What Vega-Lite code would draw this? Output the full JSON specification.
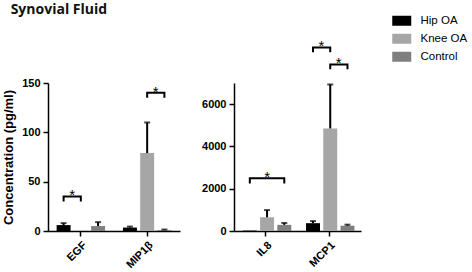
{
  "$schema": "https://vega.github.io/schema/vega-lite/v6.json",
  "padding": {"left": 2, "top": 3, "right": 2, "bottom": 2},
  "background": "white",
  "title": {"text": "Synovial Fluid", "anchor": "start", "font": "Open Sans", "fontSize": 14, "fontWeight": "bold", "color": "#111", "offset": -2, "dx": 8},
  "datasets": {
    "bars": [
      {"panel": "L", "cytokine": "EGF", "group": "Hip OA", "value": 6, "err": 8},
      {"panel": "L", "cytokine": "EGF", "group": "Knee OA", "value": 0, "err": null},
      {"panel": "L", "cytokine": "EGF", "group": "Control", "value": 5, "err": 9},
      {"panel": "L", "cytokine": "MIP1β", "group": "Hip OA", "value": 3.5, "err": 4.5},
      {"panel": "L", "cytokine": "MIP1β", "group": "Knee OA", "value": 79, "err": 110},
      {"panel": "L", "cytokine": "MIP1β", "group": "Control", "value": 1, "err": 1.5},
      {"panel": "R", "cytokine": "IL8", "group": "Hip OA", "value": 20, "err": null},
      {"panel": "R", "cytokine": "IL8", "group": "Knee OA", "value": 650, "err": 990},
      {"panel": "R", "cytokine": "IL8", "group": "Control", "value": 290, "err": 380},
      {"panel": "R", "cytokine": "MCP1", "group": "Hip OA", "value": 370, "err": 470},
      {"panel": "R", "cytokine": "MCP1", "group": "Knee OA", "value": 4850, "err": 6930},
      {"panel": "R", "cytokine": "MCP1", "group": "Control", "value": 250, "err": 300}
    ],
    "brackets": [
      {"panel": "L", "bid": "b1", "seq": 1, "cytokine": "EGF", "group": "Hip OA", "y": 30},
      {"panel": "L", "bid": "b1", "seq": 2, "cytokine": "EGF", "group": "Hip OA", "y": 35},
      {"panel": "L", "bid": "b1", "seq": 3, "cytokine": "EGF", "group": "Knee OA", "y": 35},
      {"panel": "L", "bid": "b1", "seq": 4, "cytokine": "EGF", "group": "Knee OA", "y": 30},
      {"panel": "L", "bid": "b2", "seq": 1, "cytokine": "MIP1β", "group": "Knee OA", "y": 135},
      {"panel": "L", "bid": "b2", "seq": 2, "cytokine": "MIP1β", "group": "Knee OA", "y": 140},
      {"panel": "L", "bid": "b2", "seq": 3, "cytokine": "MIP1β", "group": "Control", "y": 140},
      {"panel": "L", "bid": "b2", "seq": 4, "cytokine": "MIP1β", "group": "Control", "y": 135},
      {"panel": "R", "bid": "b3", "seq": 1, "cytokine": "IL8", "group": "Hip OA", "y": 2250},
      {"panel": "R", "bid": "b3", "seq": 2, "cytokine": "IL8", "group": "Hip OA", "y": 2490},
      {"panel": "R", "bid": "b3", "seq": 3, "cytokine": "IL8", "group": "Control", "y": 2490},
      {"panel": "R", "bid": "b3", "seq": 4, "cytokine": "IL8", "group": "Control", "y": 2250},
      {"panel": "R", "bid": "b4", "seq": 1, "cytokine": "MCP1", "group": "Hip OA", "y": 8450},
      {"panel": "R", "bid": "b4", "seq": 2, "cytokine": "MCP1", "group": "Hip OA", "y": 8680},
      {"panel": "R", "bid": "b4", "seq": 3, "cytokine": "MCP1", "group": "Knee OA", "y": 8680},
      {"panel": "R", "bid": "b4", "seq": 4, "cytokine": "MCP1", "group": "Knee OA", "y": 8450},
      {"panel": "R", "bid": "b5", "seq": 1, "cytokine": "MCP1", "group": "Knee OA", "y": 7650},
      {"panel": "R", "bid": "b5", "seq": 2, "cytokine": "MCP1", "group": "Knee OA", "y": 7880},
      {"panel": "R", "bid": "b5", "seq": 3, "cytokine": "MCP1", "group": "Control", "y": 7880},
      {"panel": "R", "bid": "b5", "seq": 4, "cytokine": "MCP1", "group": "Control", "y": 7650}
    ],
    "stars": [
      {"panel": "L", "cytokine": "EGF", "group": "Hip OA", "y": 35, "span": "adjacent", "label": "*"},
      {"panel": "L", "cytokine": "MIP1β", "group": "Knee OA", "y": 140, "span": "adjacent", "label": "*"},
      {"panel": "R", "cytokine": "IL8", "group": "Knee OA", "y": 2490, "span": "center", "label": "*"},
      {"panel": "R", "cytokine": "MCP1", "group": "Hip OA", "y": 8680, "span": "adjacent", "label": "*"},
      {"panel": "R", "cytokine": "MCP1", "group": "Knee OA", "y": 7880, "span": "adjacent", "label": "*"}
    ]
  },
  "spacing": 21,
  "resolve": {"scale": {"color": "shared"}},
  "hconcat": [
    {
      "width": 132,
      "height": 148,
      "encoding": {
        "x": {"field": "cytokine", "type": "nominal", "sort": ["EGF", "MIP1β"], "scale": {"paddingInner": 0.27, "paddingOuter": 0.13}, "axis": {"title": null, "labelAngle": -45}},
        "xOffset": {"field": "group", "type": "nominal", "sort": ["Hip OA", "Knee OA", "Control"], "scale": {"paddingInner": 0.19}}
      },
      "layer": [
        {
          "data": {"name": "bars"},
          "transform": [{"filter": "datum.panel === 'L'"}],
          "mark": {"type": "bar"},
          "encoding": {
            "y": {"field": "value", "type": "quantitative", "scale": {"domain": [0, 150], "nice": false}, "axis": {"values": [0, 50, 100, 150], "title": "Concentration (pg/ml)", "titlePadding": 6}},
            "color": {"field": "group", "type": "nominal", "sort": ["Hip OA", "Knee OA", "Control"], "scale": {"domain": ["Hip OA", "Knee OA", "Control"], "range": ["#000000", "#a6a6a6", "#7f7f7f"]}, "legend": {"title": null, "orient": "none", "legendX": 348, "legendY": -68}}
          }
        },
        {
          "data": {"name": "bars"},
          "transform": [{"filter": "datum.panel === 'L' && datum.err != null"}],
          "mark": {"type": "rule", "color": "#000", "strokeWidth": 2},
          "encoding": {"y": {"field": "value", "type": "quantitative"}, "y2": {"field": "err"}}
        },
        {
          "data": {"name": "bars"},
          "transform": [{"filter": "datum.panel === 'L' && datum.err != null"}],
          "mark": {"type": "tick", "color": "#000", "orient": "horizontal", "size": 6, "thickness": 2},
          "encoding": {"y": {"field": "err", "type": "quantitative"}}
        },
        {
          "data": {"name": "brackets"},
          "transform": [{"filter": "datum.panel === 'L'"}],
          "mark": {"type": "line", "color": "#000", "strokeWidth": 2},
          "encoding": {"y": {"field": "y", "type": "quantitative"}, "detail": {"field": "bid"}, "order": {"field": "seq"}}
        },
        {
          "data": {"name": "stars"},
          "transform": [{"filter": "datum.panel === 'L'"}],
          "mark": {"type": "text", "font": "Liberation Sans", "fontSize": 15, "dx": 8.6, "dy": 4, "baseline": "alphabetic", "fill": "#000", "color": "#000"},
          "encoding": {"y": {"field": "y", "type": "quantitative"}, "text": {"field": "label"}}
        }
      ]
    },
    {
      "width": 127,
      "height": 148,
      "encoding": {
        "x": {"field": "cytokine", "type": "nominal", "sort": ["IL8", "MCP1"], "scale": {"paddingInner": 0.27, "paddingOuter": 0.14}, "axis": {"title": null, "labelAngle": -45}},
        "xOffset": {"field": "group", "type": "nominal", "sort": ["Hip OA", "Knee OA", "Control"], "scale": {"paddingInner": 0.19}}
      },
      "layer": [
        {
          "data": {"name": "bars"},
          "transform": [{"filter": "datum.panel === 'R'"}],
          "mark": {"type": "bar"},
          "encoding": {
            "y": {"field": "value", "type": "quantitative", "scale": {"domain": [0, 7000], "nice": false}, "axis": {"values": [0, 2000, 4000, 6000], "format": "d", "title": null}},
            "color": {"field": "group", "type": "nominal", "sort": ["Hip OA", "Knee OA", "Control"]}
          }
        },
        {
          "data": {"name": "bars"},
          "transform": [{"filter": "datum.panel === 'R' && datum.err != null"}],
          "mark": {"type": "rule", "color": "#000", "strokeWidth": 2},
          "encoding": {"y": {"field": "value", "type": "quantitative"}, "y2": {"field": "err"}}
        },
        {
          "data": {"name": "bars"},
          "transform": [{"filter": "datum.panel === 'R' && datum.err != null"}],
          "mark": {"type": "tick", "color": "#000", "orient": "horizontal", "size": 6, "thickness": 2},
          "encoding": {"y": {"field": "err", "type": "quantitative"}}
        },
        {
          "data": {"name": "brackets"},
          "transform": [{"filter": "datum.panel === 'R'"}],
          "mark": {"type": "line", "color": "#000", "strokeWidth": 2},
          "encoding": {"y": {"field": "y", "type": "quantitative"}, "detail": {"field": "bid"}, "order": {"field": "seq"}}
        },
        {
          "data": {"name": "stars"},
          "transform": [{"filter": "datum.panel === 'R' && datum.span === 'adjacent'"}],
          "mark": {"type": "text", "font": "Liberation Sans", "fontSize": 15, "dx": 8.5, "dy": 4, "baseline": "alphabetic", "fill": "#000", "color": "#000"},
          "encoding": {"y": {"field": "y", "type": "quantitative"}, "text": {"field": "label"}}
        },
        {
          "data": {"name": "stars"},
          "transform": [{"filter": "datum.panel === 'R' && datum.span === 'center'"}],
          "mark": {"type": "text", "font": "Liberation Sans", "fontSize": 15, "dy": 4, "baseline": "alphabetic", "fill": "#000", "color": "#000"},
          "encoding": {"y": {"field": "y", "type": "quantitative"}, "text": {"field": "label"}}
        }
      ]
    }
  ],
  "config": {
    "font": "Liberation Sans",
    "view": {"stroke": null},
    "axis": {"labelFont": "Liberation Sans", "labelFontWeight": "bold", "labelFontSize": 11, "labelColor": "#000", "domainColor": "#000", "domainWidth": 1.5, "tickColor": "#000", "tickWidth": 1.5, "tickSize": 5, "grid": false, "titleFont": "Liberation Sans", "titleFontWeight": "bold", "titleFontSize": 13, "titleColor": "#000", "labelPadding": 3},
    "legend": {"labelFont": "Liberation Sans", "labelFontSize": 11.5, "labelColor": "#000", "symbolType": "M-1.9,-1h3.8v2h-3.8z", "symbolSize": 100, "symbolStrokeWidth": 0, "symbolOpacity": 1, "rowPadding": 5, "labelOffset": 13}
  }
}
